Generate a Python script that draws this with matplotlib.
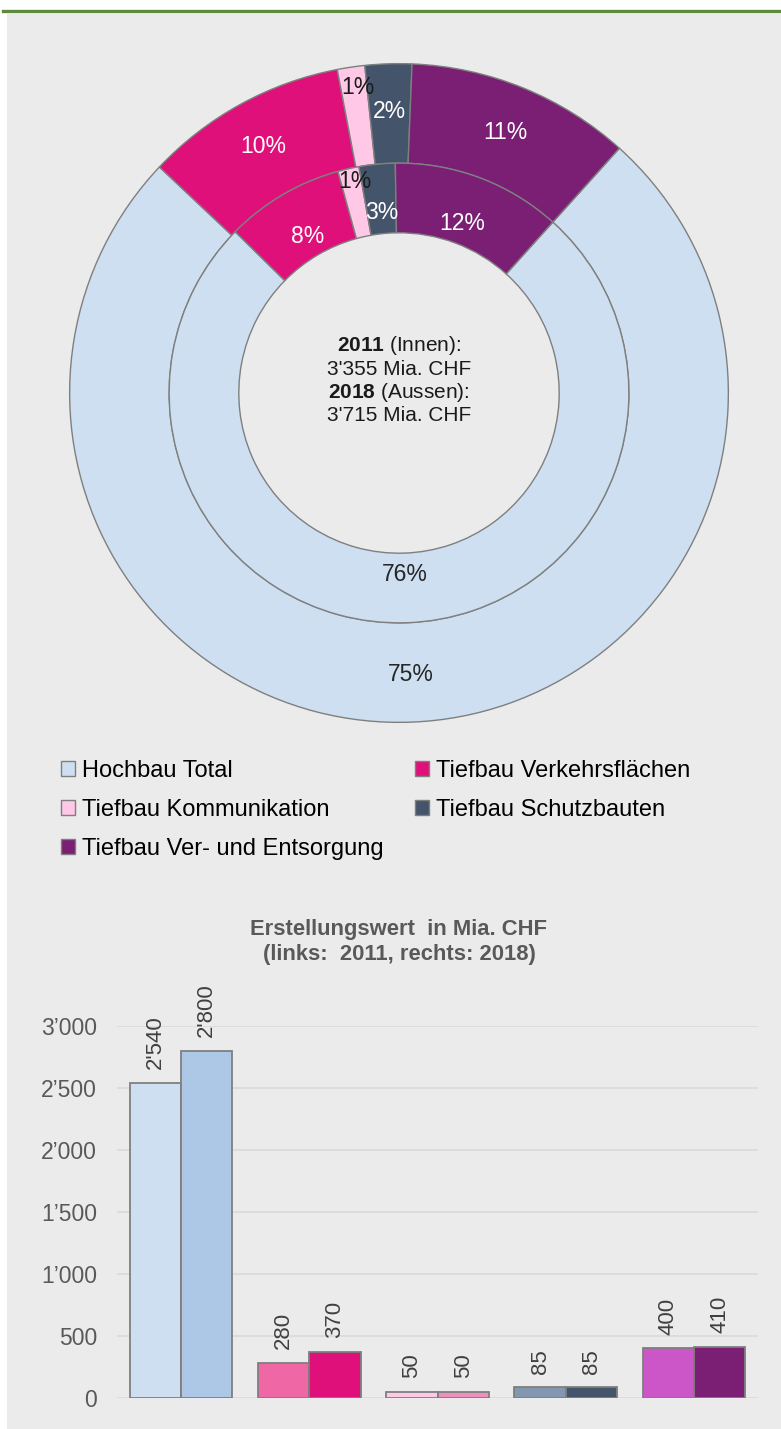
import numpy as np
import matplotlib
matplotlib.use("Agg")
import matplotlib.pyplot as plt
from matplotlib.patches import Rectangle, Patch
from matplotlib.lines import Line2D
from matplotlib import font_manager

# ---------------- data ----------------
categories = ["Hochbau Total", "Tiefbau Verkehrsflächen", "Tiefbau Kommunikation",
              "Tiefbau Schutzbauten", "Tiefbau Ver- und Entsorgung"]
values_2011 = [2540, 280, 50, 85, 400]
values_2018 = [2800, 370, 50, 85, 410]
bar_labels_2011 = ["2'540", "280", "50", "85", "400"]
bar_labels_2018 = ["2'800", "370", "50", "85", "410"]
y_ticks = [0, 500, 1000, 1500, 2000, 2500, 3000]
y_tick_labels = ["0", "500", "1’000", "1’500", "2’000", "2’500", "3’000"]
center_lines = [r"$\mathbf{2011}$ (Innen):", "3'355 Mia. CHF",
                r"$\mathbf{2018}$ (Aussen):", "3'715 Mia. CHF"]
chart_title = "Erstellungswert  in Mia. CHF\n(links:  2011, rechts: 2018)"

# ---------------- styles ----------------
donut_colors = ["#cddff0", "#e0107a", "#ffc8e6", "#44546a", "#7a1f74"]
bar_colors_2011 = ["#cddff0", "#f067a6", "#ffc8e6", "#8497b0", "#cc55c8"]
bar_colors_2018 = ["#adc8e6", "#e0107a", "#f08ebf", "#44546a", "#7a1f74"]
label_colors = ["#262626", "white", "#1a1a1a", "white", "white"]
edge = "#7f7f7f"

names = {f.name for f in font_manager.fontManager.ttflist}
base_font = "Liberation Sans" if "Liberation Sans" in names else "DejaVu Sans"
plt.rcParams["font.family"] = [base_font, "DejaVu Sans"]
plt.rcParams["mathtext.fontset"] = "custom"
plt.rcParams["mathtext.rm"] = base_font
plt.rcParams["mathtext.bf"] = base_font + ":bold"

W, H = 781, 1429
fig = plt.figure(figsize=(W / 100, H / 100), dpi=100, facecolor="white")

def fx(px):
    return px / W

def fy(py):
    return 1 - py / H

# background + green line
fig.patches.append(Rectangle((fx(7), 0), 1, fy(14), transform=fig.transFigure,
                             facecolor="#ebebeb", edgecolor="none", zorder=-10))
fig.lines.append(Line2D([fx(3), 1], [fy(11), fy(11)], transform=fig.transFigure,
                        color="#5e8a3c", lw=2.4, zorder=-5))

# ---------------- donut ----------------
cx, cy, R = 399, 393, 331
axd = fig.add_axes([fx(cx - R), fy(cy + R), fx(2 * R), 2 * R / H])
axd.set_aspect("equal")
axd.axis("off")

r_out, r_mid, r_hole = 1.0, 231 / 331, 161 / 331
start = 48
axd.pie(values_2018, radius=r_out, startangle=start, counterclock=False,
        colors=donut_colors,
        wedgeprops=dict(width=r_out - r_mid, edgecolor=edge, linewidth=1.0))
axd.pie(values_2011, radius=r_mid, startangle=start, counterclock=False,
        colors=donut_colors,
        wedgeprops=dict(width=r_mid - r_hole, edgecolor=edge, linewidth=1.0))
axd.set_xlim(-1.005, 1.005)
axd.set_ylim(-1.005, 1.005)

def ring_labels(vals, r_lab, r_small, d_ang_small):
    vals = np.asarray(vals, float)
    frac = vals / vals.sum()
    cum = np.concatenate([[0], np.cumsum(frac)[:-1]])
    for i, (f, c) in enumerate(zip(frac, cum)):
        ang = np.deg2rad(start - 360 * (c + f / 2))
        r = r_lab
        if f < 0.02:
            r = r_small
            ang += np.deg2rad(d_ang_small)
        axd.text(r * np.cos(ang), r * np.sin(ang), f"{f * 100:.0f}%",
                 ha="center", va="center", fontsize=16.5, color=label_colors[i])

ring_labels(values_2018, 0.855, 0.935, -0.8)
ring_labels(values_2011, 0.55, 0.655, -0.8)

# center text
cy_lines = [345, 369, 392, 416]
for txt, yy in zip(center_lines, cy_lines):
    axd.text(0, (cy - yy) / R, txt, ha="center", va="center",
             fontsize=15, color="#1a1a1a")

# ---------------- legend ----------------
handles = [Patch(facecolor=c, edgecolor=edge, linewidth=1.0) for c in donut_colors]
col1 = [0, 2, 4]
col2 = [1, 3]
leg_kw = dict(frameon=False, handlelength=0.6, handleheight=0.6,
              handletextpad=0.3, labelspacing=0.72, borderaxespad=0, borderpad=0,
              prop={"family": [base_font, "DejaVu Sans"], "size": 17})
l1 = fig.legend([handles[i] for i in col1], [categories[i] for i in col1],
                loc="upper left", bbox_to_anchor=(fx(61), fy(760)), **leg_kw)
l2 = fig.legend([handles[i] for i in col2], [categories[i] for i in col2],
                loc="upper left", bbox_to_anchor=(fx(415), fy(760)), **leg_kw)

# ---------------- bar chart ----------------
left, right, bottom, top = 117, 758, 1398, 1026
axb = fig.add_axes([fx(left), fy(bottom), fx(right - left), (bottom - top) / H])
axb.set_facecolor("none")
x = np.arange(len(categories))
w = 0.4
b1 = axb.bar(x - w / 2, values_2011, width=w, color=bar_colors_2011,
             edgecolor=edge, linewidth=1.3, zorder=3)
b2 = axb.bar(x + w / 2, values_2018, width=w, color=bar_colors_2018,
             edgecolor=edge, linewidth=1.3, zorder=3)
axb.bar_label(b1, labels=bar_labels_2011, rotation=90, padding=10, fontsize=16,
              color="#404040", clip_on=False)
axb.bar_label(b2, labels=bar_labels_2018, rotation=90, padding=10, fontsize=16,
              color="#404040", clip_on=False)
axb.set_xlim(-0.5, len(categories) - 0.5)
axb.set_ylim(0, 3000)
axb.set_yticks(y_ticks)
axb.set_yticklabels(y_tick_labels, fontsize=16.5, color="#595959")
axb.set_xticks([])
axb.tick_params(axis="y", length=0, pad=14.5)
axb.grid(axis="y", color="#d9d9d9", linewidth=1.2, zorder=0)
for s in axb.spines.values():
    s.set_visible(False)
axb.set_axisbelow(True)

fig.text(fx(399), fy(942), chart_title, ha="center", va="center", fontsize=15.8,
         fontweight="bold", color="#595959", linespacing=1.3)

fig.savefig("out.png", dpi=100, facecolor=fig.get_facecolor())
